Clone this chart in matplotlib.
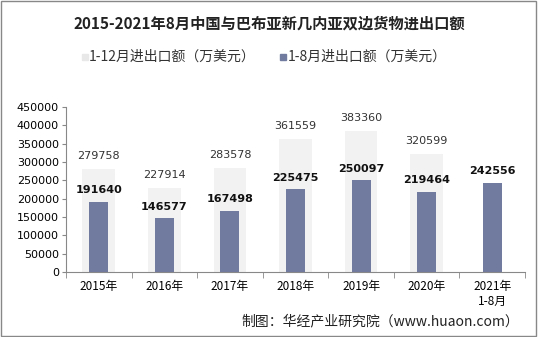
import matplotlib.pyplot as plt
import numpy as np
from matplotlib.patches import Rectangle

plt.rcParams['font.family'] = ['Noto Sans CJK SC', 'DejaVu Sans']

years = ['2015年', '2016年', '2017年', '2018年', '2019年', '2020年', '2021年\n1-8月']
full_year = [279758, 227914, 283578, 361559, 383360, 320599, None]
jan_aug = [191640, 146577, 167498, 225475, 250097, 219464, 242556]

back_color = '#f2f2f2'
front_color = '#717ba0'

fig = plt.figure(figsize=(5.38, 3.37), dpi=100)
ax = fig.add_axes([66 / 538, 1 - 272 / 337, (525 - 66) / 538, (272 - 107) / 337])

x = np.arange(len(years))
fy_x = [i for i, v in zip(x, full_year) if v is not None]
fy_v = [v for v in full_year if v is not None]
ax.bar(fy_x, fy_v, width=0.5, color=back_color, zorder=1)
ax.bar(x, jan_aug, width=0.29, color=front_color, zorder=2)

for i, v in zip(fy_x, fy_v):
    ax.text(i, v + 22000, str(v), ha='center', va='bottom', fontsize=8,
            color='#333333', family='DejaVu Sans')
for i, v in zip(x, jan_aug):
    ax.text(i, v + 18000, str(v), ha='center', va='bottom', fontsize=8,
            fontweight='bold', color='#111111', family='DejaVu Sans')

ax.set_xlim(-0.5, len(years) - 0.5)
ax.set_ylim(0, 450000)
ax.set_yticks(np.arange(0, 450001, 50000))
ax.set_yticklabels([str(v) for v in range(0, 450001, 50000)], fontsize=8, family='DejaVu Sans')
ax.set_xticks(x)
ax.set_xticklabels(years, fontsize=8.5)
ax.tick_params(axis='x', length=0, pad=6)
ax.tick_params(axis='y', length=3, color='#888888', pad=2)
ax.set_xticks(np.arange(-0.5, len(years)), minor=True)
ax.tick_params(axis='x', which='minor', length=4, color='#888888')

for s in ['top', 'right']:
    ax.spines[s].set_visible(False)
for s in ['left', 'bottom']:
    ax.spines[s].set_color('#888888')
    ax.spines[s].set_linewidth(0.8)

fig.text(0.5, 1 - 24 / 337, '2015-2021年8月中国与巴布亚新几内亚双边货物进出口额', ha='center',
         va='center', fontsize=11, fontweight='bold', color='#222222')

# legend
fig.patches.append(Rectangle((82 / 538, 1 - 60 / 337), 6 / 538, 6 / 337,
                             transform=fig.transFigure, color='#e8e8e8'))
fig.text(89 / 538, 1 - 57 / 337, '1-12月进出口额（万美元）', ha='left', va='center',
         fontsize=10, color='#333333')
fig.patches.append(Rectangle((280 / 538, 1 - 60 / 337), 6 / 538, 6 / 337,
                             transform=fig.transFigure, color=front_color))
fig.text(288 / 538, 1 - 57 / 337, '1-8月进出口额（万美元）', ha='left', va='center',
         fontsize=10, color='#333333')

fig.text(519 / 538, 1 - 321 / 337, '制图：华经产业研究院（www.huaon.com）', ha='right',
         va='center', fontsize=10, color='#222222')

fig.patches.append(Rectangle((0.002, 0.003), 0.995, 0.994, transform=fig.transFigure,
                             fill=False, edgecolor='#888888', linewidth=1))

plt.savefig('out.png', dpi=100)
